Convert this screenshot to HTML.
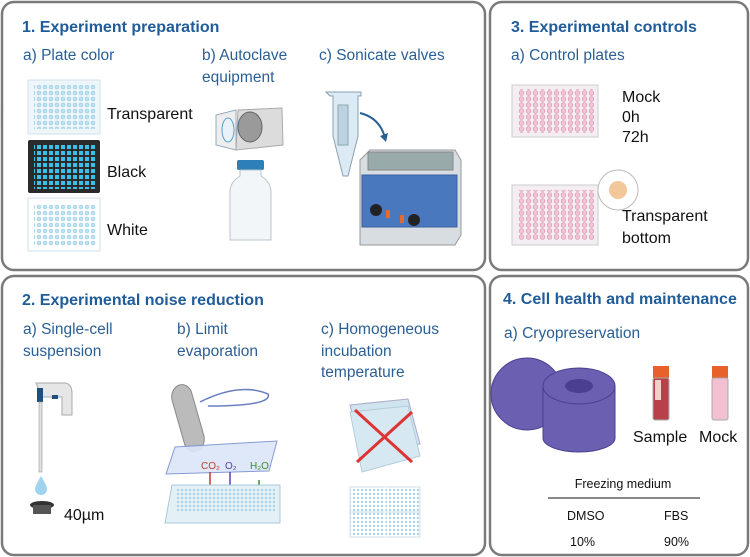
<!DOCTYPE html>
<html><head><meta charset="utf-8"><style>
html,body{margin:0;padding:0;background:#fff;width:750px;height:557px;overflow:hidden}
svg{display:block}
.h{font:bold 16px "Liberation Sans",sans-serif;fill:#1f5c99}
.s{font:15.5px "Liberation Sans",sans-serif;fill:#2a5f95}
.t{font:16px "Liberation Sans",sans-serif;fill:#111}
.m{font:12.5px "Liberation Sans",sans-serif;fill:#111}
</style></head><body>
<svg width="750" height="557" viewBox="0 0 750 557" xmlns="http://www.w3.org/2000/svg">
<defs>
<pattern id="wb" width="6" height="6" patternUnits="userSpaceOnUse"><circle cx="3" cy="3" r="2" fill="#bfe3f2" stroke="#8cc6e0" stroke-width="0.5"/></pattern>
<pattern id="wk" width="6" height="6" patternUnits="userSpaceOnUse"><rect x="1" y="1" width="4" height="4" fill="#3cc0ea"/></pattern>
<pattern id="wp" width="7" height="6" patternUnits="userSpaceOnUse"><circle cx="3.5" cy="3" r="2.3" fill="#f2c6d6" stroke="#d98aa6" stroke-width="0.6"/></pattern>
<pattern id="ws" width="4" height="4" patternUnits="userSpaceOnUse"><circle cx="2" cy="2" r="1.2" fill="#a9d3e6"/></pattern>
</defs>
<g fill="none" stroke="#7a7a7a" stroke-width="2.5">
<rect x="2" y="2" width="483" height="268" rx="12"/>
<rect x="490" y="2" width="258" height="268" rx="12"/>
<rect x="2" y="276" width="483" height="279" rx="12"/>
<rect x="490" y="276" width="258" height="279" rx="12"/>
</g>
<!-- Panel 1 -->
<text class="h" x="22" y="32">1. Experiment preparation</text>
<text class="s" x="23" y="60">a) Plate color</text>
<text class="s" x="202" y="60">b) Autoclave</text>
<text class="s" x="202" y="82">equipment</text>
<text class="s" x="319" y="60">c) Sonicate valves</text>
<rect x="28" y="80" width="72" height="54" fill="#eef6fa" stroke="#cfe2ea"/>
<rect x="34" y="85" width="62" height="44" fill="url(#wb)"/>
<rect x="28" y="140" width="72" height="53" fill="#2b2b2b" rx="2"/>
<rect x="34" y="145" width="62" height="44" fill="url(#wk)"/>
<rect x="28" y="198" width="72" height="53" fill="#fff" stroke="#cfe2ea"/>
<rect x="34" y="204" width="62" height="43" fill="url(#wb)"/>
<text class="t" x="107" y="119">Transparent</text>
<text class="t" x="107" y="177">Black</text>
<text class="t" x="107" y="235">White</text>
<!-- autoclave -->
<path d="M238 110 L282 108 L283 145 L236 150 Z" fill="#dcdcdc" stroke="#aaa"/>
<ellipse cx="250" cy="127" rx="12" ry="15" fill="#9a9a9a" stroke="#666"/>
<path d="M216 115 L236 110 L236 150 L216 145 Z" fill="#eee" stroke="#9ab"/>
<ellipse cx="228" cy="130" rx="6" ry="12" fill="#e8f2f8" stroke="#5aa0d0"/>
<!-- bottle -->
<rect x="237" y="160" width="27" height="10" rx="2" fill="#2c7fb8"/>
<path d="M240 170 h21 v6 q10 6 10 16 v48 h-41 v-48 q0 -10 10 -16 z" fill="#f2f6f8" stroke="#b8c4cc"/>
<!-- tube and arrow -->
<path d="M326 92 h35 v4 h-3 v40 l-10 40 h-5 l-10 -40 v-40 h-3 z" fill="#dceaf5" stroke="#8aa0b0"/>
<rect x="338" y="105" width="10" height="40" fill="#bcd2e2" stroke="#8aa"/>
<path d="M360 113 q20 5 25 25" fill="none" stroke="#2a5f95" stroke-width="2"/>
<path d="M380 136 l6 6 l2 -9 z" fill="#2a5f95"/>
<!-- bath -->
<path d="M360 160 l10 -10 h85 l6 10 v75 l-6 10 h-95 z" fill="#d8dde2" stroke="#999"/>
<rect x="368" y="152" width="85" height="18" fill="#9aa" stroke="#888"/>
<rect x="362" y="175" width="95" height="52" fill="#4a78bf" stroke="#3a5fa0"/>
<circle cx="376" cy="210" r="6" fill="#222"/><circle cx="414" cy="220" r="6" fill="#222"/>
<rect x="386" y="210" width="4" height="8" fill="#e46a2b"/><rect x="400" y="215" width="4" height="8" fill="#e46a2b"/>
<!-- Panel 3 -->
<text class="h" x="511" y="32">3. Experimental controls</text>
<text class="s" x="511" y="60">a) Control plates</text>
<rect x="512" y="85" width="86" height="52" fill="#f4eef2" stroke="#ccc"/>
<rect x="517" y="89" width="77" height="44" fill="url(#wp)"/>
<rect x="512" y="185" width="86" height="60" fill="#f4eef2" stroke="#ccc"/>
<rect x="517" y="190" width="77" height="50" fill="url(#wp)"/>
<circle cx="618" cy="190" r="20" fill="#fff" stroke="#bbb"/>
<circle cx="618" cy="190" r="9" fill="#f2c79a"/>
<text class="t" x="622" y="102">Mock</text>
<text class="t" x="622" y="122">0h</text>
<text class="t" x="622" y="142">72h</text>
<text class="t" x="622" y="221">Transparent</text>
<text class="t" x="622" y="243">bottom</text>
<!-- Panel 2 -->
<text class="h" x="22" y="305">2. Experimental noise reduction</text>
<text class="s" x="23" y="334">a) Single-cell</text>
<text class="s" x="23" y="356">suspension</text>
<text class="s" x="177" y="334">b) Limit</text>
<text class="s" x="177" y="356">evaporation</text>
<text class="s" x="321" y="334">c) Homogeneous</text>
<text class="s" x="321" y="356">incubation</text>
<text class="s" x="321" y="377">temperature</text>
<!-- pipette -->
<path d="M36 383 h30 q6 2 6 10 v22 h-10 v-18 h-20 z" fill="#e6e6e6" stroke="#aaa"/>
<rect x="37" y="388" width="6" height="14" fill="#1f4e80"/>
<rect x="52" y="395" width="6" height="4" fill="#1f4e80"/>
<rect x="39" y="402" width="3" height="70" fill="#e0e0e0" stroke="#999" stroke-width="0.6"/>
<path d="M41 476 q-6 10 -6 13 a6 6 0 0 0 12 0 q0 -3 -6 -13z" fill="#9fd3ef"/>
<ellipse cx="42" cy="505" rx="12" ry="4" fill="#333"/><rect x="33" y="505" width="18" height="9" fill="#555"/>
<text class="t" x="64" y="520">40µm</text>
<!-- evaporation -->
<path d="M172 400 a10 12 0 0 1 20 -6 l12 42 a10 12 0 0 1 -20 6z" fill="#bbb" stroke="#888"/>
<path d="M200 402 q40 -20 68 -8 q5 12 -60 12" fill="none" stroke="#6a7fc0" stroke-width="1.5"/>
<path d="M175 447 l102 -6 l-8 30 l-103 3z" fill="#dce6f8" stroke="#7a90d0" opacity="0.9"/>
<text x="201" y="469" font-family="Liberation Sans" font-size="10" fill="#c0392b">CO₂</text>
<text x="225" y="469" font-family="Liberation Sans" font-size="10" fill="#5b3cb0">O₂</text>
<text x="250" y="469" font-family="Liberation Sans" font-size="10" fill="#3a8a2a">H₂O</text>
<line x1="210" y1="472" x2="210" y2="494" stroke="#c0392b" stroke-width="1.5"/>
<line x1="230" y1="472" x2="230" y2="494" stroke="#5b3cb0" stroke-width="1.5"/>
<line x1="259" y1="480" x2="259" y2="490" stroke="#3a8a2a" stroke-width="1.5"/>
<path d="M172 485 l108 0 l0 38 l-115 0 z" fill="#e3f0f6" stroke="#a9c9d8"/>
<rect x="175" y="488" width="100" height="24" fill="url(#ws)"/>
<!-- incubation -->
<path d="M350 405 l58 -6 l12 45 l-58 10z" fill="#cfe4ee" stroke="#aac"/>
<path d="M350 412 l58 -6 l12 50 l-58 16z" fill="#d6e9f2" stroke="#b5ccd8"/>
<line x1="355" y1="410" x2="412" y2="462" stroke="#d33" stroke-width="3"/>
<line x1="412" y1="412" x2="357" y2="462" stroke="#d33" stroke-width="3"/>
<rect x="350" y="487" width="70" height="25" fill="url(#ws)" stroke="#cde"/>
<rect x="350" y="512" width="70" height="25" fill="url(#ws)" stroke="#cde"/>
<line x1="385" y1="487" x2="385" y2="537" stroke="#fff"/>
<!-- Panel 4 -->
<text class="h" x="503" y="304">4. Cell health and maintenance</text>
<text class="s" x="504" y="338">a) Cryopreservation</text>
<circle cx="527" cy="394" r="36" fill="#6a5fb0" stroke="#4a3f90"/>
<path d="M543 386 v52 a36 14 0 0 0 72 0 v-52z" fill="#6a5fb0" stroke="#4a3f90"/>
<ellipse cx="579" cy="386" rx="36" ry="18" fill="#6a5fb0" stroke="#4a3f90"/>
<ellipse cx="579" cy="386" rx="14" ry="7" fill="#4a3f90"/>
<rect x="653" y="366" width="16" height="12" fill="#e8602c"/>
<rect x="653" y="378" width="16" height="42" rx="2" fill="#b8404a" stroke="#aaa"/>
<rect x="655" y="380" width="6" height="20" fill="#f0d0c8"/>
<rect x="712" y="366" width="16" height="12" fill="#e8602c"/>
<rect x="712" y="378" width="16" height="42" rx="2" fill="#f2bfd3" stroke="#aaa"/>
<text class="t" x="633" y="442">Sample</text>
<text class="t" x="699" y="442">Mock</text>
<text class="m" x="623" y="488" text-anchor="middle">Freezing medium</text>
<line x1="548" y1="498" x2="700" y2="498" stroke="#111" stroke-width="1"/>
<text class="m" x="567" y="520">DMSO</text>
<text class="m" x="664" y="520">FBS</text>
<text class="m" x="570" y="546">10%</text>
<text class="m" x="664" y="546">90%</text>
</svg>
</body></html>
